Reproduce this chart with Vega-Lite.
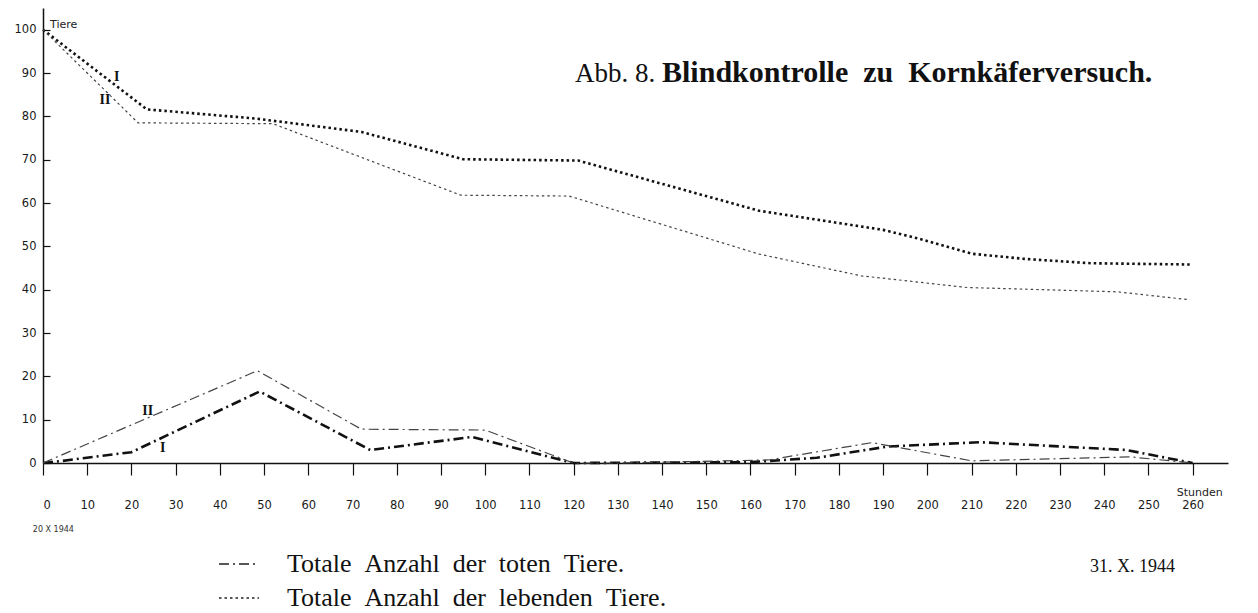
{
  "$schema": "https://vega.github.io/schema/vega-lite/v6.json",
  "width": 1185,
  "height": 455,
  "autosize": {"type": "none"},
  "padding": {"left": 43, "top": 8, "right": 30, "bottom": 150},
  "background": "white",
  "config": {
    "view": {"stroke": null},
    "axis": {"grid": false, "domainColor": "#111", "tickColor": "#111", "labelColor": "#1a1a1a", "labelFont": "DejaVu Sans", "labelFontSize": 11.5, "title": null}
  },
  "layer": [
    {
      "data": {
        "values": [
          {"Stunden": 0, "Anzahl": 0, "Art": "Totale Anzahl der toten Tiere.", "Reihe": "I"},
          {"Stunden": 4.5, "Anzahl": 0.5, "Art": "Totale Anzahl der toten Tiere.", "Reihe": "I"},
          {"Stunden": 20, "Anzahl": 2.5, "Art": "Totale Anzahl der toten Tiere.", "Reihe": "I"},
          {"Stunden": 49, "Anzahl": 16.5, "Art": "Totale Anzahl der toten Tiere.", "Reihe": "I"},
          {"Stunden": 74, "Anzahl": 3, "Art": "Totale Anzahl der toten Tiere.", "Reihe": "I"},
          {"Stunden": 97, "Anzahl": 6, "Art": "Totale Anzahl der toten Tiere.", "Reihe": "I"},
          {"Stunden": 120, "Anzahl": 0, "Art": "Totale Anzahl der toten Tiere.", "Reihe": "I"},
          {"Stunden": 160, "Anzahl": 0.2, "Art": "Totale Anzahl der toten Tiere.", "Reihe": "I"},
          {"Stunden": 175, "Anzahl": 1.2, "Art": "Totale Anzahl der toten Tiere.", "Reihe": "I"},
          {"Stunden": 191, "Anzahl": 3.8, "Art": "Totale Anzahl der toten Tiere.", "Reihe": "I"},
          {"Stunden": 212, "Anzahl": 4.8, "Art": "Totale Anzahl der toten Tiere.", "Reihe": "I"},
          {"Stunden": 245, "Anzahl": 3, "Art": "Totale Anzahl der toten Tiere.", "Reihe": "I"},
          {"Stunden": 260, "Anzahl": 0, "Art": "Totale Anzahl der toten Tiere.", "Reihe": "I"},
          {"Stunden": 0, "Anzahl": 0, "Art": "Totale Anzahl der toten Tiere.", "Reihe": "II"},
          {"Stunden": 48.5, "Anzahl": 21.3, "Art": "Totale Anzahl der toten Tiere.", "Reihe": "II"},
          {"Stunden": 72, "Anzahl": 7.8, "Art": "Totale Anzahl der toten Tiere.", "Reihe": "II"},
          {"Stunden": 100, "Anzahl": 7.6, "Art": "Totale Anzahl der toten Tiere.", "Reihe": "II"},
          {"Stunden": 120, "Anzahl": 0, "Art": "Totale Anzahl der toten Tiere.", "Reihe": "II"},
          {"Stunden": 130, "Anzahl": 0, "Art": "Totale Anzahl der toten Tiere.", "Reihe": "II"},
          {"Stunden": 164, "Anzahl": 0.7, "Art": "Totale Anzahl der toten Tiere.", "Reihe": "II"},
          {"Stunden": 187.5, "Anzahl": 4.7, "Art": "Totale Anzahl der toten Tiere.", "Reihe": "II"},
          {"Stunden": 210, "Anzahl": 0.5, "Art": "Totale Anzahl der toten Tiere.", "Reihe": "II"},
          {"Stunden": 246, "Anzahl": 1.4, "Art": "Totale Anzahl der toten Tiere.", "Reihe": "II"},
          {"Stunden": 260, "Anzahl": 0, "Art": "Totale Anzahl der toten Tiere.", "Reihe": "II"},
          {"Stunden": 0, "Anzahl": 100, "Art": "Totale Anzahl der lebenden Tiere.", "Reihe": "I"},
          {"Stunden": 23.5, "Anzahl": 81.6, "Art": "Totale Anzahl der lebenden Tiere.", "Reihe": "I"},
          {"Stunden": 48, "Anzahl": 79.5, "Art": "Totale Anzahl der lebenden Tiere.", "Reihe": "I"},
          {"Stunden": 72, "Anzahl": 76.4, "Art": "Totale Anzahl der lebenden Tiere.", "Reihe": "I"},
          {"Stunden": 95, "Anzahl": 70.1, "Art": "Totale Anzahl der lebenden Tiere.", "Reihe": "I"},
          {"Stunden": 121, "Anzahl": 69.8, "Art": "Totale Anzahl der lebenden Tiere.", "Reihe": "I"},
          {"Stunden": 162, "Anzahl": 58.2, "Art": "Totale Anzahl der lebenden Tiere.", "Reihe": "I"},
          {"Stunden": 190, "Anzahl": 53.8, "Art": "Totale Anzahl der lebenden Tiere.", "Reihe": "I"},
          {"Stunden": 198, "Anzahl": 51.8, "Art": "Totale Anzahl der lebenden Tiere.", "Reihe": "I"},
          {"Stunden": 210, "Anzahl": 48.3, "Art": "Totale Anzahl der lebenden Tiere.", "Reihe": "I"},
          {"Stunden": 222, "Anzahl": 47.1, "Art": "Totale Anzahl der lebenden Tiere.", "Reihe": "I"},
          {"Stunden": 237, "Anzahl": 46.1, "Art": "Totale Anzahl der lebenden Tiere.", "Reihe": "I"},
          {"Stunden": 260, "Anzahl": 45.8, "Art": "Totale Anzahl der lebenden Tiere.", "Reihe": "I"},
          {"Stunden": 0, "Anzahl": 100, "Art": "Totale Anzahl der lebenden Tiere.", "Reihe": "II"},
          {"Stunden": 21.5, "Anzahl": 78.5, "Art": "Totale Anzahl der lebenden Tiere.", "Reihe": "II"},
          {"Stunden": 52, "Anzahl": 78.3, "Art": "Totale Anzahl der lebenden Tiere.", "Reihe": "II"},
          {"Stunden": 94.5, "Anzahl": 61.8, "Art": "Totale Anzahl der lebenden Tiere.", "Reihe": "II"},
          {"Stunden": 119, "Anzahl": 61.6, "Art": "Totale Anzahl der lebenden Tiere.", "Reihe": "II"},
          {"Stunden": 162, "Anzahl": 48.2, "Art": "Totale Anzahl der lebenden Tiere.", "Reihe": "II"},
          {"Stunden": 185, "Anzahl": 43.2, "Art": "Totale Anzahl der lebenden Tiere.", "Reihe": "II"},
          {"Stunden": 209, "Anzahl": 40.5, "Art": "Totale Anzahl der lebenden Tiere.", "Reihe": "II"},
          {"Stunden": 243, "Anzahl": 39.5, "Art": "Totale Anzahl der lebenden Tiere.", "Reihe": "II"},
          {"Stunden": 259, "Anzahl": 37.7, "Art": "Totale Anzahl der lebenden Tiere.", "Reihe": "II"}
        ]
      },
      "mark": {"type": "line", "strokeCap": "butt", "clip": false},
      "encoding": {
        "x": {
          "field": "Stunden", "type": "quantitative",
          "scale": {"domain": [0, 268], "nice": false, "zero": false},
          "axis": {"values": [0,10,20,30,40,50,60,70,80,90,100,110,120,130,140,150,160,170,180,190,200,210,220,230,240,250,260], "domainWidth": 1.5, "tickSize": 12, "tickWidth": 1.2, "labelPadding": 24}
        },
        "y": {
          "field": "Anzahl", "type": "quantitative",
          "scale": {"domain": [0, 105], "nice": false},
          "axis": {"values": [0,10,20,30,40,50,60,70,80,90,100], "domainWidth": 1.5, "tickSize": -7, "tickWidth": 1.2, "labelPadding": 14}
        },
        "strokeDash": {
          "field": "Art", "type": "nominal",
          "scale": {"domain": ["Totale Anzahl der toten Tiere.", "Totale Anzahl der lebenden Tiere."], "range": [[10, 4, 2, 4], [2.5, 3]]},
          "legend": {
            "title": null, "orient": "none", "legendX": 175, "legendY": 535,
            "symbolType": "stroke", "symbolSize": 1600, "symbolStrokeWidth": 1.5, "symbolStrokeColor": "#222",
            "labelFont": "Liberation Serif", "labelFontSize": 26, "labelColor": "#111", "labelOffset": 27,
            "labelExpr": "replace(datum.label, / /g, '\u00a0\u00a0')",
            "rowPadding": -9, "labelLimit": 800
          }
        },
        "strokeWidth": {
          "field": "Reihe", "type": "nominal",
          "scale": {"domain": ["I", "II"], "range": [2.6, 1.2]},
          "legend": null
        },
        "color": {
          "field": "Reihe", "type": "nominal",
          "scale": {"domain": ["I", "II"], "range": ["#111111", "#444444"]},
          "legend": null
        }
      }
    },
    {
      "data": {"values": [{"h": 120.3, "v": 87.9, "t": "Abb. 8."}]},
      "mark": {"type": "text", "align": "left", "baseline": "alphabetic", "font": "Liberation Serif", "fontSize": 27, "color": "#111"},
      "encoding": {"x": {"field": "h", "type": "quantitative"}, "y": {"field": "v", "type": "quantitative"}, "text": {"field": "t"}}
    },
    {
      "data": {"values": [{"h": 140, "v": 87.9, "t": "Blindkontrolle\u00a0\u00a0zu\u00a0\u00a0Kornkäferversuch."}]},
      "mark": {"type": "text", "align": "left", "baseline": "alphabetic", "font": "Liberation Serif", "fontSize": 30, "fontWeight": "bold", "color": "#111"},
      "encoding": {"x": {"field": "h", "type": "quantitative"}, "y": {"field": "v", "type": "quantitative"}, "text": {"field": "t"}}
    },
    {
      "data": {"values": [
        {"h": 16.7, "v": 89.1, "t": "I"},
        {"h": 14, "v": 83.8, "t": "II"},
        {"h": 23.7, "v": 12, "t": "II"},
        {"h": 27.1, "v": 3.5, "t": "I"}
      ]},
      "mark": {"type": "text", "align": "center", "baseline": "middle", "font": "Liberation Serif", "fontSize": 14, "fontWeight": "bold", "color": "#111"},
      "encoding": {"x": {"field": "h", "type": "quantitative"}, "y": {"field": "v", "type": "quantitative"}, "text": {"field": "t"}}
    },
    {
      "data": {"values": [{"h": 256, "v": -25.2, "t": "31. X. 1944"}]},
      "mark": {"type": "text", "align": "right", "baseline": "alphabetic", "font": "Liberation Serif", "fontSize": 18, "color": "#111"},
      "encoding": {"x": {"field": "h", "type": "quantitative"}, "y": {"field": "v", "type": "quantitative"}, "text": {"field": "t"}}
    },
    {
      "data": {"values": [{"h": 261.6, "v": -6.9, "t": "Stunden"}]},
      "mark": {"type": "text", "align": "center", "baseline": "middle", "font": "DejaVu Sans", "fontSize": 11, "color": "#222"},
      "encoding": {"x": {"field": "h", "type": "quantitative"}, "y": {"field": "v", "type": "quantitative"}, "text": {"field": "t"}}
    },
    {
      "data": {"values": [{"h": 1.6, "v": 101.1, "t": "Tiere"}]},
      "mark": {"type": "text", "align": "left", "baseline": "middle", "font": "DejaVu Sans", "fontSize": 11, "color": "#222"},
      "encoding": {"x": {"field": "h", "type": "quantitative"}, "y": {"field": "v", "type": "quantitative"}, "text": {"field": "t"}}
    },
    {
      "data": {"values": [{"h": -2.3, "v": -15.5, "t": "20 X 1944"}]},
      "mark": {"type": "text", "align": "left", "baseline": "middle", "font": "DejaVu Sans", "fontSize": 8, "color": "#333"},
      "encoding": {"x": {"field": "h", "type": "quantitative"}, "y": {"field": "v", "type": "quantitative"}, "text": {"field": "t"}}
    }
  ]
}
